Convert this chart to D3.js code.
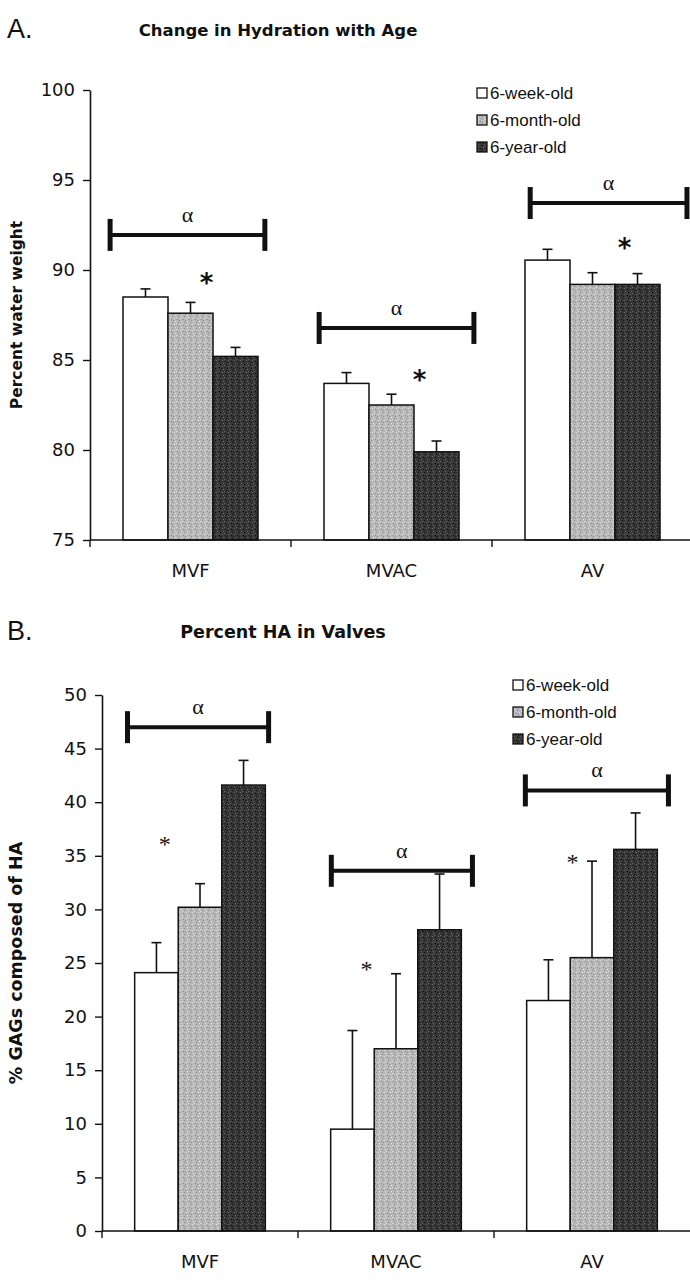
<!DOCTYPE html>
<html><head><meta charset="utf-8">
<script src="https://cdn.jsdelivr.net/npm/d3@7"></script>
<style>
html,body{margin:0;padding:0;background:#fff;}
svg{display:block;}
</style></head>
<body>
<svg id="chart" width="690" height="1285"></svg>
<script>
// ---------- data ----------
const categories = ["MVF", "MVAC", "AV"];
const series = ["6-week-old", "6-month-old", "6-year-old"];

// Panel A: percent water weight (mean, +error)
const hydrationMean = [[88.5, 87.6, 85.2], [83.7, 82.5, 79.9], [90.55, 89.2, 89.2]];
const hydrationErr  = [[0.45, 0.6, 0.5], [0.6, 0.6, 0.6], [0.6, 0.65, 0.6]];
const ticksA = [75, 80, 85, 90, 95, 100];

// Panel B: % GAGs composed of HA (mean, +error)
const haMean = [[24.1, 30.2, 41.6], [9.5, 17.0, 28.1], [21.5, 25.5, 35.6]];
const haErr  = [[2.8, 2.2, 2.3], [9.2, 7.0, 5.2], [3.8, 9.0, 3.4]];
const ticksB = [0, 5, 10, 15, 20, 25, 30, 35, 40, 45, 50];

// significance annotations (value = height on the y scale)
const alphaA = [91.95, 86.78, 93.72];
const starA  = [89.6, 84.2, 91.5];
const alphaB = [47.0, 33.6, 41.1];
const starB  = [36.4, 24.7, 34.7];

// ---------- layout ----------
const svg = d3.select("#chart");

// fine stipple patterns to mimic the scanned texture
const defs = svg.append("defs");
function stipple(id, base, dot, dot2) {
  const p = defs.append("pattern").attr("id", id).attr("patternUnits", "userSpaceOnUse")
    .attr("width", 6).attr("height", 6);
  p.append("rect").attr("width", 6).attr("height", 6).attr("fill", base);
  [[0,0],[3,1],[1,3],[4,4],[2,5],[5,2]].forEach((d,i) =>
    p.append("rect").attr("x", d[0]).attr("y", d[1]).attr("width", 1).attr("height", 1)
      .attr("fill", i % 2 ? dot : dot2));
}
stipple("pGray", "#b8b8b8", "#8a8a8a", "#e2e2e2");
stipple("pDark", "#363636", "#111111", "#6a6a6a");
const patFill = ["#ffffff", "url(#pGray)", "url(#pDark)"];

function panel(cfg) {
  const g = svg.append("g");
  const y = d3.scaleLinear().domain(cfg.domain).range(cfg.yRange);
  const x = d3.scaleBand().domain(categories).range(cfg.xRange).paddingInner(0).paddingOuter(0);
  const xs = d3.scaleBand().domain(series).range([0, x.bandwidth()]).paddingInner(0).paddingOuter(cfg.outer);

  // panel letter and title
  g.append("text").attr("x", 7).attr("y", cfg.letterY)
    .attr("font-family", "Liberation Sans, Arial, sans-serif").attr("font-size", 27)
    .attr("fill", "#111").text(cfg.letter);
  g.append("text").attr("x", cfg.titleX).attr("y", cfg.letterY - 2)
    .attr("text-anchor", "middle")
    .attr("font-family", "DejaVu Sans, Verdana, sans-serif").attr("font-weight", "bold")
    .attr("font-size", cfg.titleSize).attr("fill", "#111").text(cfg.title);

  // y axis
  const yAxis = d3.axisLeft(y).tickValues(cfg.ticks).tickSize(7).tickSizeOuter(0).tickPadding(8);
  const ya = g.append("g").attr("transform", `translate(${cfg.xRange[0]},0)`).call(yAxis);
  ya.select(".domain").attr("stroke", "#111").attr("stroke-width", 1.6);
  ya.selectAll(".tick line").attr("stroke", "#111").attr("stroke-width", 1.4);
  ya.selectAll(".tick text").attr("font-family", "DejaVu Sans, Verdana, sans-serif")
    .attr("font-size", 18).attr("fill", "#111");

  // y label
  g.append("text")
    .attr("transform", `translate(${cfg.ylabX},${(cfg.yRange[0] + cfg.yRange[1]) / 2}) rotate(-90)`)
    .attr("text-anchor", "middle")
    .attr("font-family", "DejaVu Sans, Verdana, sans-serif").attr("font-weight", "bold")
    .attr("font-size", cfg.ylabSize).attr("fill", "#111").text(cfg.ylabel);

  // bars
  const rows = [];
  categories.forEach((c, ci) => series.forEach((s, si) =>
    rows.push({c, s, si, v: cfg.mean[ci][si], e: cfg.err[ci][si]})));
  const bw = xs.bandwidth();
  const bars = g.append("g");
  bars.selectAll("rect").data(rows).join("rect")
    .attr("x", d => x(d.c) + xs(d.s))
    .attr("y", d => y(d.v))
    .attr("width", bw)
    .attr("height", d => y(cfg.domain[0]) - y(d.v))
    .attr("fill", d => patFill[d.si])
    .attr("stroke", "#111").attr("stroke-width", 1.5);

  // error bars (upper only)
  const eb = g.append("g").attr("stroke", "#111").attr("stroke-width", 1.6);
  eb.selectAll("line.v").data(rows).join("line").attr("class", "v")
    .attr("x1", d => x(d.c) + xs(d.s) + bw / 2).attr("x2", d => x(d.c) + xs(d.s) + bw / 2)
    .attr("y1", d => y(d.v)).attr("y2", d => y(d.v + d.e));
  eb.selectAll("line.h").data(rows).join("line").attr("class", "h")
    .attr("x1", d => x(d.c) + xs(d.s) + bw / 2 - 5).attr("x2", d => x(d.c) + xs(d.s) + bw / 2 + 5)
    .attr("y1", d => y(d.v + d.e)).attr("y2", d => y(d.v + d.e));

  // x axis
  const y0 = y(cfg.domain[0]);
  g.append("line").attr("x1", cfg.xRange[0]).attr("x2", 690).attr("y1", y0).attr("y2", y0)
    .attr("stroke", "#111").attr("stroke-width", 1.6);
  const bounds = categories.map(c => x(c));
  g.selectAll("line.xt").data(bounds).join("line").attr("class", "xt")
    .attr("x1", d => d).attr("x2", d => d).attr("y1", y0).attr("y2", y0 + 7)
    .attr("stroke", "#111").attr("stroke-width", 1.4);
  g.selectAll("text.xl").data(categories).join("text").attr("class", "xl")
    .attr("x", d => x(d) + x.bandwidth() / 2).attr("y", y0 + cfg.xlabDy)
    .attr("text-anchor", "middle")
    .attr("font-family", "DejaVu Sans, Verdana, sans-serif").attr("font-size", 18)
    .attr("fill", "#111").text(d => d);

  // brackets with alpha, and stars
  const br = g.append("g");
  categories.forEach((c, ci) => {
    const x1 = x(c) + cfg.span[ci][0] * x.bandwidth();
    const x2 = x(c) + cfg.span[ci][1] * x.bandwidth();
    const yy = y(cfg.alpha[ci]);
    br.append("line").attr("x1", x1).attr("x2", x2).attr("y1", yy).attr("y2", yy)
      .attr("stroke", "#111").attr("stroke-width", 4);
    [x1, x2].forEach(xx => br.append("line").attr("x1", xx).attr("x2", xx)
      .attr("y1", yy - 16).attr("y2", yy + 16).attr("stroke", "#111").attr("stroke-width", 5));
    br.append("text").attr("x", (x1 + x2) / 2).attr("y", yy - 13)
      .attr("text-anchor", "middle")
      .attr("font-family", "Liberation Serif, Times New Roman, serif").attr("font-size", 22)
      .attr("fill", "#111").text("α");
    const sx = x(c) + cfg.starPos[ci] * x.bandwidth();
    const sy = y(cfg.star[ci]);
    br.append("text").attr("x", sx).attr("y", sy + cfg.starSize * cfg.starShift)
      .attr("text-anchor", "middle")
      .attr("font-family", cfg.starFont).attr("font-weight", cfg.starWeight)
      .attr("font-size", cfg.starSize).attr("fill", "#111").text("*");
  });

  // legend
  const lg = g.append("g").attr("transform", `translate(${cfg.legX},${cfg.legY})`);
  series.forEach((s, i) => {
    const row = lg.append("g").attr("transform", `translate(0,${i * 27})`);
    row.append("rect").attr("x", 0).attr("y", -5).attr("width", 10).attr("height", 10)
      .attr("fill", patFill[i]).attr("stroke", "#111").attr("stroke-width", 1.3);
    row.append("text").attr("x", 13).attr("y", 6)
      .attr("font-family", "Liberation Sans, Arial, sans-serif").attr("font-size", 17)
      .attr("fill", "#111").text(s);
  });
}

panel({
  letter: "A.", letterY: 38, title: "Change in Hydration with Age", titleX: 278, titleSize: 16.5,
  domain: [75, 100], yRange: [540, 90], xRange: [90, 693], outer: 0.733,
  ticks: ticksA, mean: hydrationMean, err: hydrationErr,
  ylabel: "Percent water weight", ylabX: 22, ylabSize: 15.5, xlabDy: 37,
  alpha: alphaA, span: [[0.10, 0.87], [0.14, 0.91], [0.19, 0.97]],
  star: starA, starPos: [0.58, 0.64, 0.66],
  starFont: "DejaVu Sans, Verdana, sans-serif", starWeight: "bold", starSize: 26, starShift: 0.55,
  legX: 477, legY: 93
});

panel({
  letter: "B.", letterY: 640, title: "Percent HA in Valves", titleX: 283, titleSize: 17.5,
  domain: [0, 50], yRange: [1231, 695], xRange: [102, 690], outer: 0.75,
  ticks: ticksB, mean: haMean, err: haErr,
  ylabel: "% GAGs composed of HA", ylabX: 22, ylabSize: 17.5, xlabDy: 37,
  alpha: alphaB, span: [[0.13, 0.85], [0.17, 0.89], [0.16, 0.89]],
  star: starB, starPos: [0.32, 0.35, 0.40],
  starFont: "Liberation Serif, Times New Roman, serif", starWeight: "normal", starSize: 24, starShift: 0.45,
  legX: 513, legY: 685
});
</script>
</body></html>
